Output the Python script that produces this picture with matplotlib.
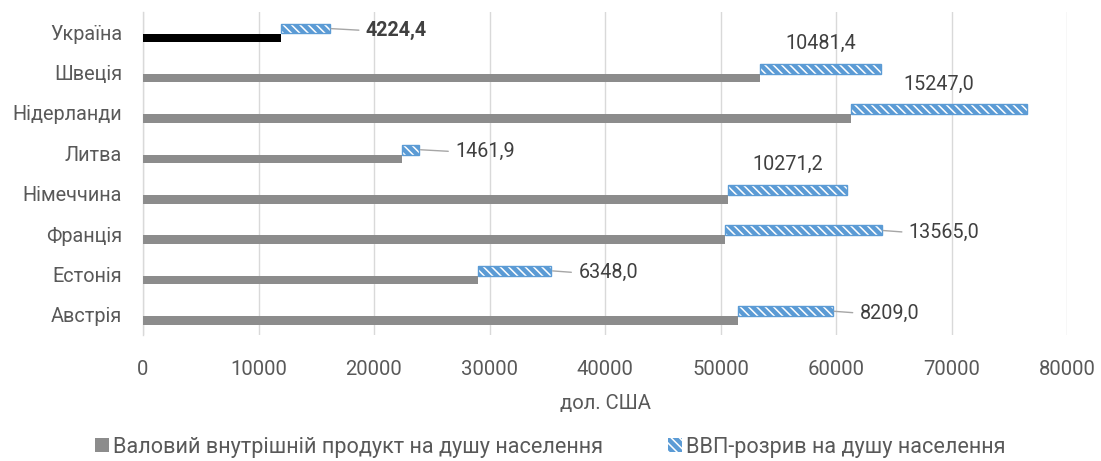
import matplotlib
matplotlib.use("Agg")
import matplotlib.pyplot as plt
from matplotlib.patches import Patch
from matplotlib import font_manager as fm

# ---- data ----
countries = ['Україна', 'Швеція', 'Нідерланди', 'Литва', 'Німеччина', 'Франція', 'Естонія', 'Австрія']
gdp = [11950, 53450, 61300, 22450, 50650, 50400, 29000, 51500]
gap = [4224.4, 10481.4, 15247.0, 1461.9, 10271.2, 13565.0, 6348.0, 8209.0]
gap_labels = ['4224,4', '10481,4', '15247,0', '1461,9', '10271,2', '13565,0', '6348,0', '8209,0']
label_mode = ['right', 'above', 'above', 'right', 'above', 'right', 'right', 'right']
xticks = [0, 10000, 20000, 30000, 40000, 50000, 60000, 70000, 80000]
xlabel = 'дол. США'
legend_labels = ['Валовий внутрішній продукт на душу населення', 'ВВП-розрив на душу населення']

# ---- font ----
available = {f.name for f in fm.fontManager.ttflist}
family = 'DejaVu Sans'
for cand in ['Roboto', 'Liberation Sans']:
    if cand in available:
        family = cand
        break
plt.rcParams['font.family'] = [family, 'DejaVu Sans']
plt.rcParams['hatch.linewidth'] = 1.1

FS_CAT = 14.3
FS_TICK = 14.6
FS_LBL = 14.2
FS_LEG = 15.6

TXT = '#595959'
LBL = '#404040'
GRAY = '#8c8c8c'
BLUE = '#5b9bd5'

fig = plt.figure(figsize=(11.01, 4.61), dpi=100)
ax = fig.add_axes([143 / 1101, 1 - 335 / 461, (1067 - 143) / 1101, (335 - 12) / 461])

n = len(countries)
ys = list(range(n))
gdp_off, gdp_h = 0.14, 0.21
gap_off, gap_h = -0.09, 0.245

gdp_colors = ['black'] + [GRAY] * (n - 1)
ax.barh([y + gdp_off for y in ys], gdp, height=gdp_h, color=gdp_colors, linewidth=0, zorder=3)

# hatched gap bars: blue with white diagonal stripes
ax.barh([y + gap_off for y in ys], gap, left=gdp, height=gap_h, facecolor=BLUE,
        edgecolor='white', hatch='\\\\\\\\', linewidth=0, zorder=3)
ax.barh([y + gap_off for y in ys], gap, left=gdp, height=gap_h, fill=False,
        edgecolor=BLUE, linewidth=1.0, zorder=4)

# data labels
for i in range(n):
    end = gdp[i] + gap[i]
    y = ys[i] + gap_off
    weight = 'bold' if i == 0 else 'normal'
    if label_mode[i] == 'above':
        mid = gdp[i] + gap[i] / 2
        ax.annotate(gap_labels[i], xy=(mid, ys[i]), xytext=(0, 29), textcoords='offset pixels',
                    ha='center', va='center', fontsize=FS_LBL, color=LBL, weight=weight, zorder=5)
    else:
        off = 36 if gap[i] < 5000 else 27
        ax.annotate(gap_labels[i], xy=(end, y), xytext=(off, -2), textcoords='offset pixels',
                    ha='left', va='center', fontsize=FS_LBL, color=LBL, weight=weight, zorder=5,
                    arrowprops=dict(arrowstyle='-', color='#a6a6a6', lw=1.0,
                                    shrinkA=3, shrinkB=1, relpos=(0, 0.5)))

ax.set_xlim(0, 80000)
ax.set_ylim(n - 0.5, -0.5)
ax.set_yticks(ys)
ax.set_yticklabels(countries, fontsize=FS_CAT, color=TXT)
ax.set_xticks(xticks)
ax.set_xticklabels([str(t) for t in xticks], fontsize=FS_TICK, color=TXT)
ax.tick_params(axis='y', length=0, pad=15)
ax.tick_params(axis='x', length=0, pad=18)
ax.grid(axis='x', color='#d9d9d9', linewidth=1.0, zorder=0)
ax.set_axisbelow(True)
for s in ['top', 'right', 'bottom']:
    ax.spines[s].set_visible(False)
ax.spines['left'].set_color('#d9d9d9')
ax.spines['left'].set_linewidth(1.0)

ax.set_xlabel(xlabel, fontsize=FS_TICK, color=TXT, labelpad=11)

handles = [Patch(facecolor=GRAY, edgecolor='none'),
           Patch(facecolor=BLUE, edgecolor='white', hatch='\\\\\\\\', linewidth=0)]
fig.legend(handles, legend_labels, loc='center', bbox_to_anchor=(0.5, 1 - 447 / 461), ncol=2,
           frameon=False, fontsize=FS_LEG, labelcolor=TXT, handlelength=0.62, handleheight=0.62,
           handletextpad=0.2, columnspacing=3.0)

fig.savefig('out.png', dpi=100)
